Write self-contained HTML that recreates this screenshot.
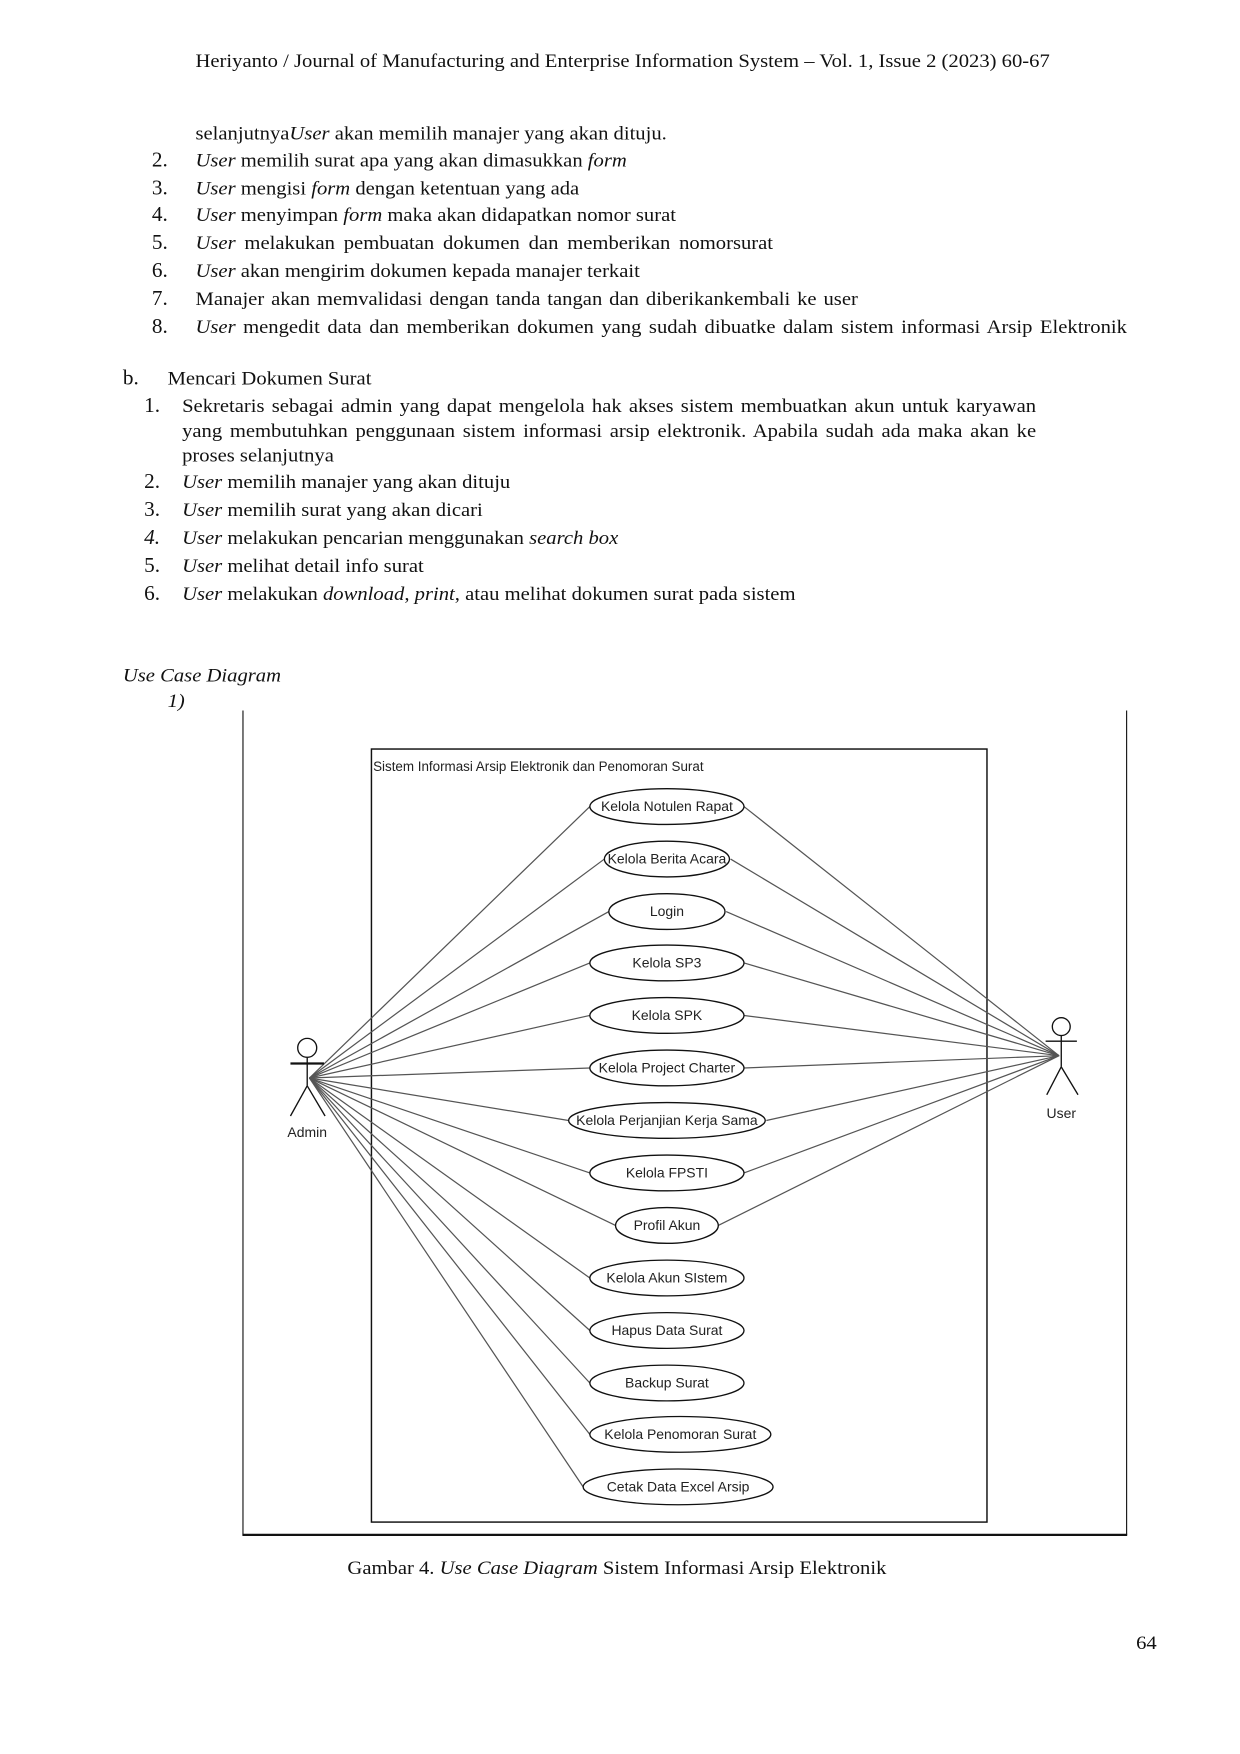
<!DOCTYPE html>
<html><head><meta charset="utf-8"><style>
html,body{margin:0;padding:0;background:#fff;}
#page{position:relative;width:1110px;height:1570px;transform:scale(1.11712);transform-origin:0 0;font-family:"Liberation Serif",serif;color:#111;}
.t{position:absolute;font-size:16.8px;line-height:18px;white-space:nowrap;transform:scaleX(1.1);transform-origin:0 0;}
.n{position:absolute;font-size:19px;line-height:18px;}
i{font-style:italic;}
.j{white-space:normal;text-align:justify;text-align-last:justify;}
</style></head><body><div id="page">
<div class="t" style="left:175px;top:46px;">Heriyanto / Journal of Manufacturing and Enterprise Information System – Vol. 1, Issue 2 (2023) 60-67</div>

<div class="t" style="left:175px;top:111px;">selanjutnya<i>User</i> akan memilih manajer yang akan dituju.</div>
<div class="n" style="left:136px;top:135px;">2.</div><div class="t" style="left:175px;top:135px;"><i>User</i> memilih surat apa yang akan dimasukkan <i>form</i></div>
<div class="n" style="left:136px;top:160px;">3.</div><div class="t" style="left:175px;top:160px;"><i>User</i> mengisi <i>form</i> dengan ketentuan yang ada</div>
<div class="n" style="left:136px;top:184px;">4.</div><div class="t" style="left:175px;top:184px;"><i>User</i> menyimpan <i>form</i> maka akan didapatkan nomor surat</div>
<div class="n" style="left:136px;top:209px;">5.</div><div class="t j" style="left:175px;top:209px;width:470px;"><i>User</i> melakukan pembuatan dokumen dan memberikan nomorsurat</div>
<div class="n" style="left:136px;top:234px;">6.</div><div class="t" style="left:175px;top:234px;"><i>User</i> akan mengirim dokumen kepada manajer terkait</div>
<div class="n" style="left:136px;top:259px;">7.</div><div class="t j" style="left:175px;top:259px;width:539px;">Manajer akan memvalidasi dengan tanda tangan dan diberikankembali ke user</div>
<div class="n" style="left:136px;top:284px;">8.</div><div class="t j" style="left:175px;top:284px;width:758px;"><i>User</i> mengedit data dan memberikan dokumen yang sudah dibuatke dalam sistem informasi Arsip Elektronik</div>

<div class="n" style="left:110px;top:330px;">b.</div><div class="t" style="left:150px;top:330px;">Mencari Dokumen Surat</div>
<div class="n" style="left:129px;top:355px;">1.</div>
<div class="t j" style="left:163px;top:355px;width:695px;">Sekretaris sebagai admin yang dapat mengelola hak akses sistem membuatkan akun untuk karyawan</div>
<div class="t j" style="left:163px;top:377px;width:695px;">yang membutuhkan penggunaan sistem informasi arsip elektronik. Apabila sudah ada maka akan ke</div>
<div class="t" style="left:163px;top:399px;">proses selanjutnya</div>
<div class="n" style="left:129px;top:423px;">2.</div><div class="t" style="left:163px;top:423px;"><i>User</i> memilih manajer yang akan dituju</div>
<div class="n" style="left:129px;top:448px;">3.</div><div class="t" style="left:163px;top:448px;"><i>User</i> memilih surat yang akan dicari</div>
<div class="n" style="left:129px;top:473px;"><i>4.</i></div><div class="t" style="left:163px;top:473px;"><i>User</i> melakukan pencarian menggunakan <i>search box</i></div>
<div class="n" style="left:129px;top:498px;">5.</div><div class="t" style="left:163px;top:498px;"><i>User</i> melihat detail info surat</div>
<div class="n" style="left:129px;top:523px;">6.</div><div class="t" style="left:163px;top:523px;"><i>User</i> melakukan <i>download</i>, <i>print</i>, atau melihat dokumen surat pada sistem</div>

<div class="t" style="left:110px;top:596px;"><i>Use Case Diagram</i></div>
<div class="t" style="left:150px;top:619px;"><i>1)</i></div>

<svg style="position:absolute;left:0;top:0" width="1110" height="1570" font-family="Liberation Sans, sans-serif" font-size="12.5">
<line x1="217.5" y1="636" x2="217.5" y2="1374" stroke="#111" stroke-width="1"/>
<line x1="1008.5" y1="636" x2="1008.5" y2="1374" stroke="#111" stroke-width="1"/>
<line x1="217" y1="1374" x2="1009" y2="1374" stroke="#111" stroke-width="2"/>
<rect x="332.5" y="670.5" width="551" height="692" fill="none" stroke="#111" stroke-width="1.3"/>
<text x="334" y="690" font-size="12" fill="#222">Sistem Informasi Arsip Elektronik dan Penomoran Surat</text>
<g stroke="#555" stroke-width="1.1">
<line x1="277" y1="965" x2="528" y2="722"/><line x1="277" y1="965" x2="541" y2="769"/>
<line x1="277" y1="965" x2="545" y2="816"/><line x1="277" y1="965" x2="528" y2="862"/>
<line x1="277" y1="965" x2="528" y2="909"/><line x1="277" y1="965" x2="528" y2="956"/>
<line x1="277" y1="965" x2="509" y2="1003"/><line x1="277" y1="965" x2="528" y2="1050"/>
<line x1="277" y1="965" x2="551" y2="1097"/><line x1="277" y1="965" x2="528" y2="1144"/>
<line x1="277" y1="965" x2="528" y2="1191"/><line x1="277" y1="965" x2="528" y2="1238"/>
<line x1="277" y1="965" x2="528" y2="1284"/><line x1="277" y1="965" x2="522" y2="1331"/>
<line x1="948" y1="945" x2="666" y2="722"/><line x1="948" y1="945" x2="654" y2="769"/>
<line x1="948" y1="945" x2="650" y2="816"/><line x1="948" y1="945" x2="666" y2="862"/>
<line x1="948" y1="945" x2="666" y2="909"/><line x1="948" y1="945" x2="666" y2="956"/>
<line x1="948" y1="945" x2="686" y2="1003"/><line x1="948" y1="945" x2="666" y2="1050"/>
<line x1="948" y1="945" x2="643" y2="1097"/>
</g>
<g fill="#fff" stroke="#111" stroke-width="1.2">
<ellipse cx="597" cy="722" rx="69" ry="16"/><ellipse cx="597" cy="769" rx="56" ry="16"/>
<ellipse cx="597" cy="816" rx="52" ry="16"/><ellipse cx="597" cy="862" rx="69" ry="16"/>
<ellipse cx="597" cy="909" rx="69" ry="16"/><ellipse cx="597" cy="956" rx="69" ry="16"/>
<ellipse cx="597" cy="1003" rx="88" ry="16"/><ellipse cx="597" cy="1050" rx="69" ry="16"/>
<ellipse cx="597" cy="1097" rx="46" ry="16"/><ellipse cx="597" cy="1144" rx="69" ry="16"/>
<ellipse cx="597" cy="1191" rx="69" ry="16"/><ellipse cx="597" cy="1238" rx="69" ry="16"/>
<ellipse cx="609" cy="1284" rx="81" ry="16"/><ellipse cx="607" cy="1331" rx="85" ry="16"/>
</g>
<g text-anchor="middle" fill="#222">
<text x="597" y="726">Kelola Notulen Rapat</text><text x="597" y="773">Kelola Berita Acara</text>
<text x="597" y="820">Login</text><text x="597" y="866">Kelola SP3</text>
<text x="597" y="913">Kelola SPK</text><text x="597" y="960">Kelola Project Charter</text>
<text x="597" y="1007">Kelola Perjanjian Kerja Sama</text><text x="597" y="1054">Kelola FPSTI</text>
<text x="597" y="1101">Profil Akun</text><text x="597" y="1148">Kelola Akun SIstem</text>
<text x="597" y="1195">Hapus Data Surat</text><text x="597" y="1242">Backup Surat</text>
<text x="609" y="1288">Kelola Penomoran Surat</text><text x="607" y="1335">Cetak Data Excel Arsip</text>
</g>
<g stroke="#111" stroke-width="1.2" fill="none">
<circle cx="275" cy="938" r="8.5"/>
<line x1="260" y1="952" x2="290" y2="952" stroke-width="2"/>
<line x1="275" y1="947" x2="275" y2="972"/>
<line x1="275" y1="972" x2="260" y2="999"/><line x1="275" y1="972" x2="291" y2="999"/>
<circle cx="950" cy="919" r="8"/>
<line x1="936" y1="932" x2="964" y2="932"/>
<line x1="950" y1="927" x2="950" y2="955"/>
<line x1="950" y1="955" x2="937" y2="980"/><line x1="950" y1="955" x2="965" y2="980"/>
</g>
<text x="275" y="1018" text-anchor="middle" fill="#222">Admin</text>
<text x="950" y="1001" text-anchor="middle" fill="#222">User</text>
</svg>

<div class="t" style="left:311px;top:1395px;">Gambar 4. <i>Use Case Diagram</i> Sistem Informasi Arsip Elektronik</div>
<div class="t" style="left:1017px;top:1462px;">64</div>
</div></body></html>
